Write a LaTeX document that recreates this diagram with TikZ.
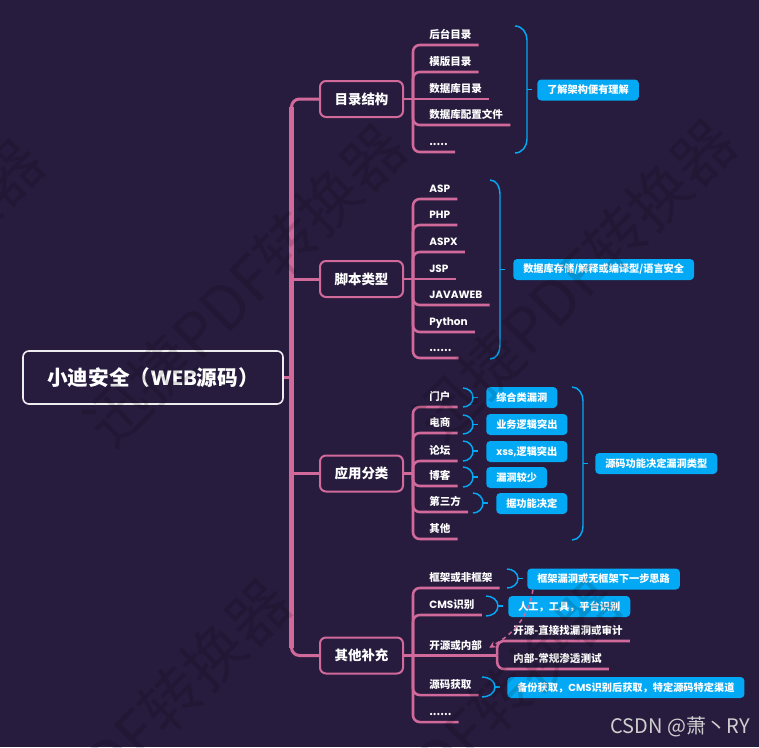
\documentclass[tikz,border=0pt]{standalone}
\usepackage{fontspec}
\setmainfont{Noto Sans CJK SC}
\newfontfamily\latf{Poppins}
\usetikzlibrary{arrows.meta}

\definecolor{bgc}{HTML}{281C3E}
\definecolor{rosa}{HTML}{D2699B}
\definecolor{azul}{HTML}{03A9F4}
\definecolor{frame}{HTML}{EDEDED}
\definecolor{mark}{HTML}{CFCFCF}

\tikzset{
  root/.style={draw=frame, line width=1.2pt, fill=bgc, rounded corners=4.5pt,
    minimum width=195pt, minimum height=39.75pt, text=white,
    font=\fontsize{15.5}{17}\selectfont\bfseries},
  topic/.style={draw=rosa, line width=1.5pt, fill=bgc, rounded corners=4.5pt,
    minimum width=62.25pt, minimum height=27pt, text=white,
    font=\fontsize{10.1}{12}\selectfont\bfseries},
  leaf/.style={anchor=south west, inner xsep=5.25pt, inner ysep=0pt,
    text height=6.75pt, text depth=4.5pt, text=white,
    font=\fontsize{7.9}{9}\selectfont\bfseries},
  tag/.style={anchor=west, fill=azul, rounded corners=3pt, inner xsep=7.5pt,
    inner ysep=0pt, minimum height=15.75pt, text=white,
    font=\fontsize{7.65}{9}\selectfont\bfseries},
  trunk/.style={draw=rosa, line width=2.25pt, rounded corners=6pt},
  stem/.style={draw=rosa, line width=3.75pt},
  twig/.style={draw=rosa, line width=1.9pt, rounded corners=5pt},
  brace/.style={draw=azul, line width=1.1pt},
  rel/.style={draw=rosa, line width=1.1pt, dashed, -{Stealth[length=5pt,width=5pt]}},
  wm/.style={rotate=45, font=\fontsize{46}{50}\selectfont, text=black, opacity=0.14}
}

% summary bracket: x, top, bottom, bulge
\newcommand\summ[4]{%
  \pgfmathsetmacro\rr{min(14,(#3-#2)/2)}%
  \pgfmathsetmacro\mm{(#2+#3)/2}%
  \draw[brace] (#1,#2) to[out=0,in=90] ({#1+#4},{#2+\rr}) -- ({#1+#4},{#3-\rr})
    to[out=-90,in=0] (#1,#3);
  \draw[brace] ({#1+#4},\mm) -- ++(5,0);
}

\begin{document}
\begin{tikzpicture}[x=0.75pt,y=-0.75pt]
\fill[bgc] (0,0) rectangle (759,747);
\useasboundingbox (0,0) rectangle (759,747);

% root and main topics
\node[root] (root) at (153,377.5) {小迪安全（{\latf WEB}源码）};
\node[topic] (d1) at (361.5,99) {目录结构};
\node[topic] (d2) at (361.5,279) {脚本类型};
\node[topic] (d3) at (361.5,473.5) {应用分类};
\node[topic] (d4) at (361.5,655.5) {其他补充};

\coordinate (tt) at (291.5,99);
\coordinate (tb) at (291.5,655.5);
\draw[trunk] (d1.west) -- (tt) -- (tb) -- (d4.west);
\draw[stem] ([yshift=-6pt]tt) -- ([yshift=6pt]tb);
\draw[trunk] (root.east) -- (root.east -| tt);
\draw[trunk] (d2.west) -- (d2.west -| tt);
\draw[trunk] (d3.west) -- (d3.west -| tt);

% 目录结构
\coordinate (j1) at (413,99);
\node[leaf] (a1) at (422,45) {后台目录};
\node[leaf] (a2) at (422,72) {模版目录};
\node[leaf] (a3) at (422,99) {数据库目录};
\node[leaf] (a4) at (422,125) {数据库配置文件};
\node[leaf] (a5) at (422,152) {.....};
\draw[twig] (d1.east) -- (a3.south east);
\draw[twig] (j1) |- (a1.south east);
\draw[twig] (j1) |- (a2.south east);
\draw[twig] (j1) |- (a4.south east);
\draw[twig] (j1) |- (a5.south east);

% 脚本类型
\coordinate (j2) at (413,279);
\node[leaf] (b1) at (422,199) {\latf ASP};
\node[leaf] (b2) at (422,225) {\latf PHP};
\node[leaf] (b3) at (422,252) {\latf ASPX};
\node[leaf] (b4) at (422,279) {\latf JSP};
\node[leaf] (b5) at (422,305) {\latf JAVAWEB};
\node[leaf] (b6) at (422,332) {\latf Python};
\node[leaf] (b7) at (422,358) {......};
\draw[twig] (d2.east) -- (b4.south east);
\draw[twig] (j2) |- (b1.south east);
\draw[twig] (j2) |- (b2.south east);
\draw[twig] (j2) |- (b3.south east);
\draw[twig] (j2) |- (b5.south east);
\draw[twig] (j2) |- (b6.south east);
\draw[twig] (j2) |- (b7.south east);

% 应用分类
\coordinate (j3) at (413,473.5);
\node[leaf] (c1) at (422,407) {门户};
\node[leaf] (c2) at (422,433) {电商};
\node[leaf] (c3) at (422,461) {论坛};
\node[leaf] (c4) at (422,486) {博客};
\node[leaf] (c5) at (422,512) {第三方};
\node[leaf] (c6) at (422,539) {其他};
\draw[twig] (d3.east) -- (j3);
\draw[twig] (j3) |- (c1.south east);
\draw[twig] (j3) |- (c2.south east);
\draw[twig] (j3) |- (c3.south east);
\draw[twig] (j3) |- (c4.south east);
\draw[twig] (j3) |- (c5.south east);
\draw[twig] (j3) |- (c6.south east);

% 其他补充
\coordinate (j4) at (413,655.5);
\node[leaf] (o1) at (422,588) {框架或非框架};
\node[leaf] (o2) at (422,615) {{\latf CMS}识别};
\node[leaf] (o3) at (422,655.5) {开源或内部};
\node[leaf] (o4) at (422,695) {源码获取};
\node[leaf] (o5) at (422,722) {......};
\draw[twig] (d4.east) -- (o3.south east);
\draw[twig] (j4) |- (o1.south east);
\draw[twig] (j4) |- (o2.south east);
\draw[twig] (j4) |- (o4.south east);
\draw[twig] (j4) |- (o5.south east);
\node[leaf] (s1) at (506,641) {开源-直接找漏洞或审计};
\node[leaf] (s2) at (506,669) {内部-常规渗透测试};
\draw[twig] (o3.south east) -- ++(8,0) coordinate (j5);
\draw[twig] (j5) |- (s1.south east);
\draw[twig] (j5) |- (s2.south east);

% summaries
\summ{515}{26}{153}{12}
\node[tag] (g1) at (537,90) {了解架构便有理解};
\summ{490}{180}{359}{10}
\node[tag] (g2) at (513,269.5) {数据库存储/解释或编译型/语言安全};
\summ{463}{388}{407}{10}
\node[tag] (g3) at (486,397.5) {综合类漏洞};
\summ{463}{415}{434}{10}
\node[tag] (g4) at (486,424.5) {业务逻辑突出};
\summ{463}{441}{461}{10}
\node[tag] (g5) at (486,451.5) {{\latf xss,}逻辑突出};
\summ{463}{467}{487}{10}
\node[tag] (g6) at (486,477.5) {漏洞较少};
\summ{473}{493}{513}{10}
\node[tag] (g7) at (496,503.5) {据功能决定};
\summ{572}{387}{540}{11}
\node[tag] (g8) at (595,463.5) {源码功能决定漏洞类型};
\summ{507}{569}{588}{11}
\node[tag] (g9) at (527,579) {框架漏洞或无框架下一步思路};
\summ{486}{596}{616}{12}
\node[tag] (g10) at (508,606.5) {人工，工具，平台识别};
\summ{482}{677}{697}{13}
\node[tag] (g11) at (507,687.5) {备份获取，{\latf CMS}识别后获取，特定源码特定渠道};

\draw[rel] ([xshift=4.5pt]g9.south west) to[out=-100,in=30] (o3.east);

\node[anchor=west, text=mark, font=\fontsize{15}{17}\selectfont] (csdn) at (606,727) {CSDN @萧丶RY};

% watermark
\begin{scope}
\clip (0,0) rectangle (759,747);
\node[wm] (w1) at (-117,300) {迅捷PDF转换器};
\node[wm] (w2) at (245,285) {迅捷PDF转换器};
\node[wm] (w3) at (575,280) {迅捷PDF转换器};
\node[wm] (w4) at (130,740) {迅捷PDF转换器};
\node[wm] (w5) at (460,740) {迅捷PDF转换器};
\end{scope}
\end{tikzpicture}
\end{document}
